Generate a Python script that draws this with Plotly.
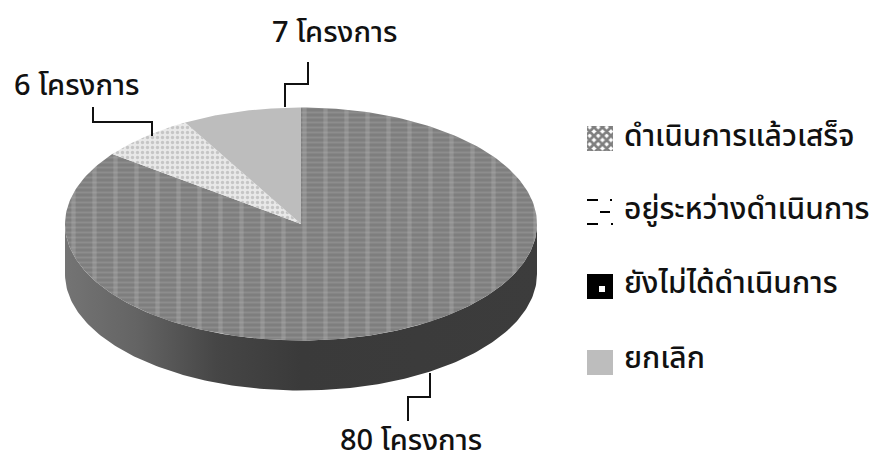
import numpy as np
import plotly.graph_objects as go

categories = ["ดำเนินการแล้วเสร็จ", "อยู่ระหว่างดำเนินการ", "ยังไม่ได้ดำเนินการ", "ยกเลิก"]
values = [80, 6, 0, 7]
slice_labels = ["80 โครงการ", "6 โครงการ", "", "7 โครงการ"]

FONT = "Noto Sans, Noto Sans Thai, Loma, DejaVu Sans, sans-serif"
cx, cy, rx, ry, depth = 301, 224, 236, 116.5, 50
warp = np.radians(2.85)  # slight perspective of the tilted disc

patterns = [
    dict(shape="-", bgcolor="#7e7e7e", fgcolor="#9c9c9c", size=5, solidity=0.4),
    dict(shape=".", bgcolor="#e8e8e8", fgcolor="#a2a2a2", size=5, solidity=0.35),
    dict(shape="", bgcolor="#000000"),
    dict(shape="", bgcolor="#bdbdbd"),
]
fills = ["#7e7e7e", "#e8e8e8", "#000000", "#bdbdbd"]
key_fills = ["#ffffff", "#ffffff", "#000000", "#bdbdbd"]
legend_patterns = [
    dict(shape="x", bgcolor="#ffffff", fgcolor="#000000", size=6, solidity=0.7),
    dict(shape="", bgcolor="#ffffff"),
    dict(shape="", bgcolor="#000000"),
    dict(shape="", bgcolor="#bdbdbd"),
]

fig = go.Figure()

# side wall (front half of the disc)
t = np.linspace(0, np.pi, 181)
xs = cx + rx * np.cos(t)
ys = cy + ry * np.sin(t)
fig.add_trace(go.Scatter(
    x=np.r_[xs, xs[::-1]], y=np.r_[ys + depth, ys[::-1]],
    mode="lines", fill="toself",
    fillgradient=dict(type="horizontal", colorscale=[[0, "#747474"], [0.15, "#646464"], [0.32, "#464646"], [0.5, "#3a3a3a"], [1, "#3c3c3c"]]),
    line=dict(width=0), hoverinfo="skip", showlegend=False))

# top face slices, clockwise from twelve o'clock
total = sum(values)
start = 0.0
for i, (name, v, fc, pat) in enumerate(zip(categories, values, fills, patterns)):
    if v == 0:
        continue
    a = np.linspace(start, start + v / total * 2 * np.pi, 240)
    start = a[-1]
    a = a + warp * np.sin(2 * a)
    px = np.r_[cx, cx + rx * np.sin(a), cx]
    py = np.r_[cy, cy - ry * np.cos(a), cy]
    fig.add_trace(go.Scatter(
        x=px, y=py,
        mode="lines", fill="toself", fillcolor=fc, fillpattern=pat,
        line=dict(width=0, color=fc), name=name, showlegend=False))
    if i == 0:  # woven columns on the completed slice
        fig.add_trace(go.Scatter(
            x=px, y=py, mode="lines", fill="toself", fillcolor="rgba(0,0,0,0)",
            fillpattern=dict(shape="|", bgcolor="rgba(0,0,0,0)", fgcolor="rgba(205,205,205,0.45)", size=21, solidity=0.2),
            line=dict(width=0), hoverinfo="skip", showlegend=False))

# legend keys and texts
key_rows = [138, 212, 286, 362]
text_rows = [134, 207, 281, 356]
for name, yc, yt, fc, pat in zip(categories, key_rows, text_rows, key_fills, legend_patterns):
    fig.add_trace(go.Scatter(
        x=[587, 613, 613, 587, 587],
        y=[yc - 12, yc - 12, yc + 13, yc + 13, yc - 12],
        mode="lines", fill="toself", fillcolor=fc, fillpattern=pat,
        line=dict(width=0, color=fc), hoverinfo="skip", showlegend=False))
    fig.add_annotation(x=622, y=yt, text=name, showarrow=False, xanchor="left",
                       font=dict(family=FONT, size=30, color="#111111", weight=500))

label_pos = [(411, 438), (77, 83), None, (335, 30)]
for text, pos in zip(slice_labels, label_pos):
    if pos:
        fig.add_annotation(x=pos[0], y=pos[1], text=text, showarrow=False,
                           font=dict(family=FONT, size=29, color="#111111", weight=500))

leaders = ["M430,373 V397 H408 V421", "M152,136 V122 H93 V107", "M285,107 V84 H308 V62"]
shapes = [dict(type="path", path=p, xref="x", yref="y",
               line=dict(color="#111111", width=2)) for p in leaders]
# key details
for x0, x1, y0 in [(587, 598, 200), (600, 610, 212), (587, 598, 224), (610, 612, 200), (611, 613, 224)]:
    shapes.append(dict(type="line", x0=x0, x1=x1, y0=y0, y1=y0, xref="x", yref="y",
                       line=dict(color="#000000", width=2)))
shapes.append(dict(type="rect", x0=599, x1=605, y0=286, y1=292, xref="x", yref="y",
                   fillcolor="#ffffff", line=dict(width=0)))

fig.update_layout(
    width=875, height=457, margin=dict(l=0, r=0, t=0, b=0),
    paper_bgcolor="white", plot_bgcolor="white", showlegend=False, shapes=shapes,
    xaxis=dict(range=[0, 875], visible=False, fixedrange=True),
    yaxis=dict(range=[457, 0], visible=False, fixedrange=True),
)
fig.write_html("out.html", config=dict(displayModeBar=False),
               post_script="document.body.style.margin='0';document.documentElement.style.overflow='hidden';")
